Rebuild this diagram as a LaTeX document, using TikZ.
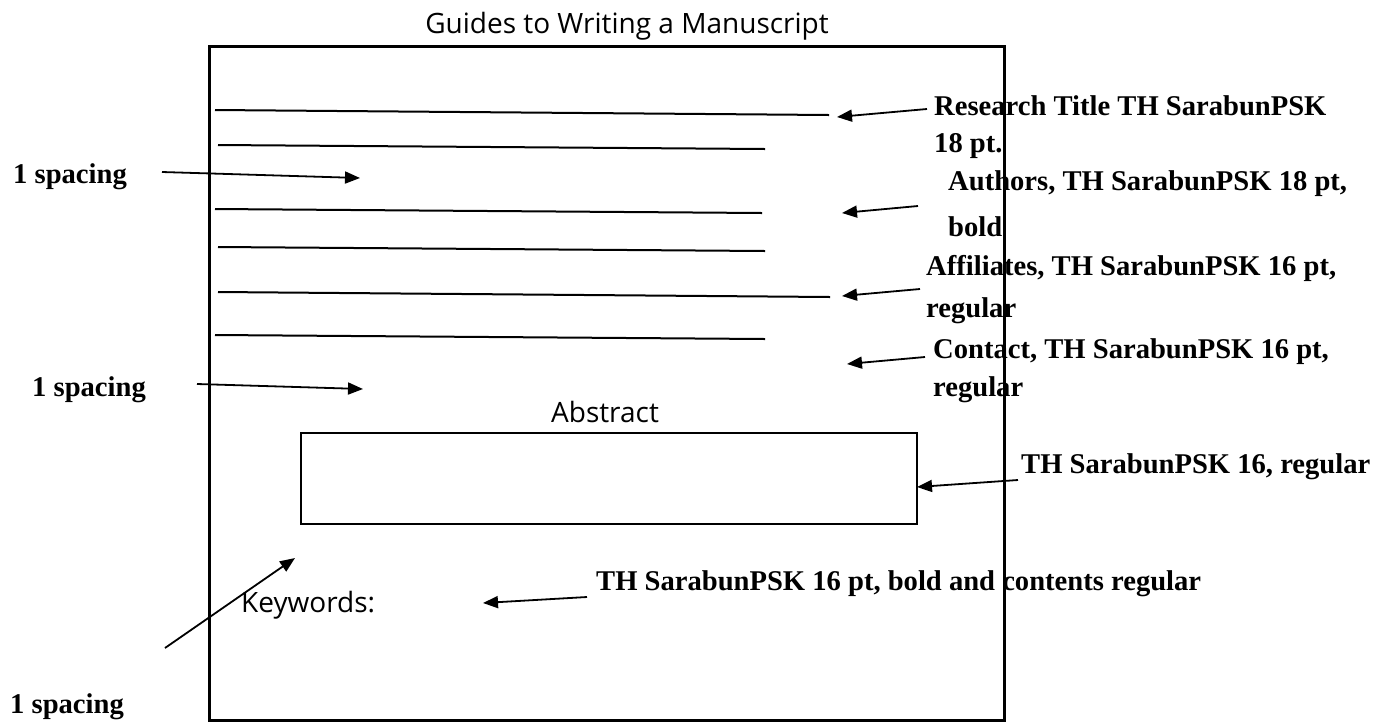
\documentclass[tikz,border=0pt]{standalone}
\usepackage{fontspec}
\setmainfont{Liberation Serif}
\newfontfamily\sansf{Open Sans}
\usetikzlibrary{arrows.meta}
\begin{document}
\begin{tikzpicture}[x=1pt,y=-1pt,
  lbl/.style={font=\fontsize{28.6}{34}\selectfont\bfseries, inner sep=0pt, anchor=base west},
  stxt/.style={font=\sansf\fontsize{28}{34}\selectfont, inner sep=0pt},
  rule/.style={line width=2pt},
  ptr/.style={line width=1.8pt, -{Triangle[length=15pt,width=12pt]}},
]
\useasboundingbox (0,0) rectangle (1397,724);
% texts
\node[stxt, anchor=base] (title) at (627,33) {Guides to Writing a Manuscript};
\node[stxt, anchor=base] (abs) at (605,422) {Abstract};
\node[stxt, anchor=base west] (kw) at (241,612) {Keywords:};
\node[lbl] (t1a) at (934,115) {Research Title TH SarabunPSK};
\node[lbl] (t1b) at (934,152) {18 pt.};
\node[lbl] (t2a) at (948,190) {Authors, TH SarabunPSK 18 pt,};
\node[lbl] (t2b) at (948,236) {bold};
\node[lbl] (t3a) at (926,275) {Affiliates, TH SarabunPSK 16 pt,};
\node[lbl] (t3b) at (926,317) {regular};
\node[lbl] (t4a) at (933,358) {Contact, TH SarabunPSK 16 pt,};
\node[lbl] (t4b) at (933,396) {regular};
\node[lbl] (t5) at (1021,473) {TH SarabunPSK 16, regular};
\node[lbl] (t6) at (596,590) {TH SarabunPSK 16 pt, bold and contents regular};
\node[lbl] (s1) at (13,183) {1 spacing};
\node[lbl] (s2) at (32,396) {1 spacing};
\node[lbl] (s3) at (10,713) {1 spacing};
% page and abstract box
\node (page) [draw, line width=3pt, minimum width=795pt, minimum height=674pt, anchor=north west, inner sep=0pt] at (208,45) {};
\node (abox) [draw, line width=2pt, minimum width=616pt, minimum height=91pt, anchor=north west, inner sep=0pt] at (300,432) {};
% text lines
\foreach \i/\xa/\ya/\xb/\yb in {1/215/110/829/115, 2/218/145/765/149, 3/215/209/762/213, 4/218/247/765/251, 5/218/292/830/297, 6/215/335/765/339}{
  \coordinate (l\i s) at (\xa,\ya);
  \coordinate (l\i e) at (\xb,\yb);
  \draw[rule] (l\i s) -- (l\i e);
}
% arrows
\foreach \i/\xa/\ya/\xb/\yb in {1/927/109/837/117, 2/918/206/842/213, 3/920/289/842/296, 4/925/357/847/364, 5/1018/480/917/487, 6/587/597/483/603, 7/165/648/295/558, 8/162/172/360/178, 9/197/384/363/389}{
  \coordinate (a\i t) at (\xa,\ya);
  \coordinate (a\i h) at (\xb,\yb);
  \draw[ptr] (a\i t) -- (a\i h);
}
\end{tikzpicture}
\end{document}
